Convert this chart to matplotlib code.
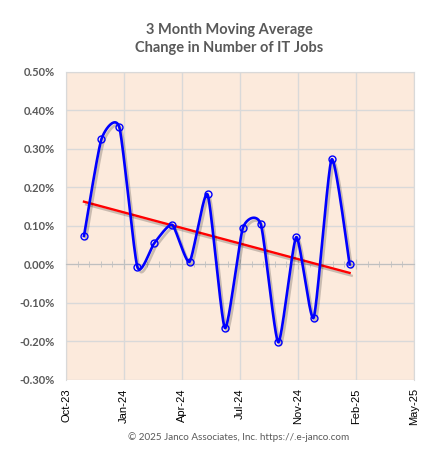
import numpy as np
import pandas as pd
import matplotlib
matplotlib.use("Agg")
import matplotlib.pyplot as plt
import matplotlib.dates as mdates
import matplotlib.patheffects as pe

# monthly 3-month moving average change (%), Nov-23 .. Feb-25
months = pd.date_range("2023-11-01", "2025-02-01", freq="MS")
values = [0.074, 0.325, 0.356, -0.006, 0.055, 0.103, 0.007, 0.182,
          -0.165, 0.095, 0.104, -0.202, 0.071, -0.138, 0.273, 0.000]

title = "3 Month Moving Average\nChange in Number of IT Jobs"
footer = "\u00a9 2025 Janco Associates, Inc. https://.e-janco.com"
y_ticks = [-0.3, -0.2, -0.1, 0.0, 0.1, 0.2, 0.3, 0.4, 0.5]

BG = "#FCEADC"
GRID = "#D9D9D9"
GRAY_TXT = "#595959"


def smooth_curve(x, y, k=0.1, n=40):
    # Excel-like smoothed line (cardinal spline drawn as cubic bezier)
    pts = np.column_stack([x, y]).astype(float)
    ext = np.vstack([pts[0], pts, pts[-1]])
    out = []
    t = np.linspace(0, 1, n)[:, None]
    for i in range(1, len(ext) - 2):
        p0, p1, p2, p3 = ext[i - 1], ext[i], ext[i + 1], ext[i + 2]
        b1 = p1 + (p2 - p0) * k
        b2 = p2 - (p3 - p1) * k
        seg = ((1 - t) ** 3) * p1 + 3 * ((1 - t) ** 2) * t * b1 \
            + 3 * (1 - t) * t ** 2 * b2 + t ** 3 * p2
        out.append(seg if i == 1 else seg[1:])
    out = np.vstack(out)
    return out[:, 0], out[:, 1]


xnum = mdates.date2num(months)
yv = np.array(values)

fig = plt.figure(figsize=(4.34, 4.51), dpi=100)
ax = fig.add_axes([66 / 434, 1 - 380 / 451, 348 / 434, 308 / 451])
ax.set_facecolor(BG)

# excel date axis: starts 1 Oct 2023, major unit 100 days, minor 20 days
x0 = mdates.date2num(pd.Timestamp("2023-10-01"))
major_x = [x0 + 100 * i for i in range(7)]
minor_x = [x0 + 20 * i for i in range(31)]
ax.set_xlim(x0, x0 + 600)
ax.set_ylim(-0.3, 0.5)

ax.set_xticks(major_x)
ax.set_xticks(minor_x, minor=True)
ax.set_yticks(y_ticks)
ax.yaxis.set_major_formatter(matplotlib.ticker.FuncFormatter(lambda v, p: f"{v:.2f}%"))
ax.grid(True, which="major", color=GRID, lw=1)
ax.set_axisbelow(True)

for s in ["left", "right", "top"]:
    ax.spines[s].set_color(GRID)
ax.spines["bottom"].set_position(("data", 0))
ax.spines["bottom"].set_color("#BFBFBF")
ax.tick_params(axis="x", which="both", direction="inout", color="#BFBFBF",
               labelbottom=False)
ax.tick_params(axis="x", which="major", length=7)
ax.tick_params(axis="x", which="minor", length=5)
ax.tick_params(axis="y", length=0, pad=8, labelcolor=GRAY_TXT, labelsize=8)
for lab in ax.get_yticklabels():
    lab.set_fontfamily("Lato")
    lab.set_fontweight("bold")

# date labels at the bottom edge
sec = ax.secondary_xaxis(0.0)
sec.set_xticks(major_x)
sec.xaxis.set_major_formatter(mdates.DateFormatter("%b-%y"))
sec.tick_params(length=0, pad=6, labelsize=8, labelrotation=90)
sec.spines["bottom"].set_visible(False)
for lab in sec.get_xticklabels():
    lab.set_fontfamily("Liberation Sans")

shadow = [pe.SimpleLineShadow(offset=(1.5, -2), shadow_color="k", alpha=0.2),
          pe.Normal()]

# trend line
coef = np.polyfit(xnum, yv, 1)
ax.plot(xnum[[0, -1]], np.polyval(coef, xnum[[0, -1]]), color="#FF0000",
        lw=1.7, path_effects=shadow, zorder=3)

sx, sy = smooth_curve(xnum, yv)
ax.plot(sx, sy, color="#0000FF", lw=1.9, path_effects=shadow, zorder=4)
ax.plot(xnum, yv, ls="none", marker="o", ms=5, mfc="none", mec="#0000FF",
        mew=1.0, zorder=5)

fig.text(0.528, 1 - 23 / 451, title, ha="center", va="top", fontsize=10.5,
         fontweight="bold", color=GRAY_TXT, family="Lato", linespacing=1.35)
fig.text(0.55, 1 - 437 / 451, footer, ha="center", va="center", fontsize=7.1,
         color=GRAY_TXT, family="Lato")

fig.savefig("out.png", dpi=100, facecolor="white")
